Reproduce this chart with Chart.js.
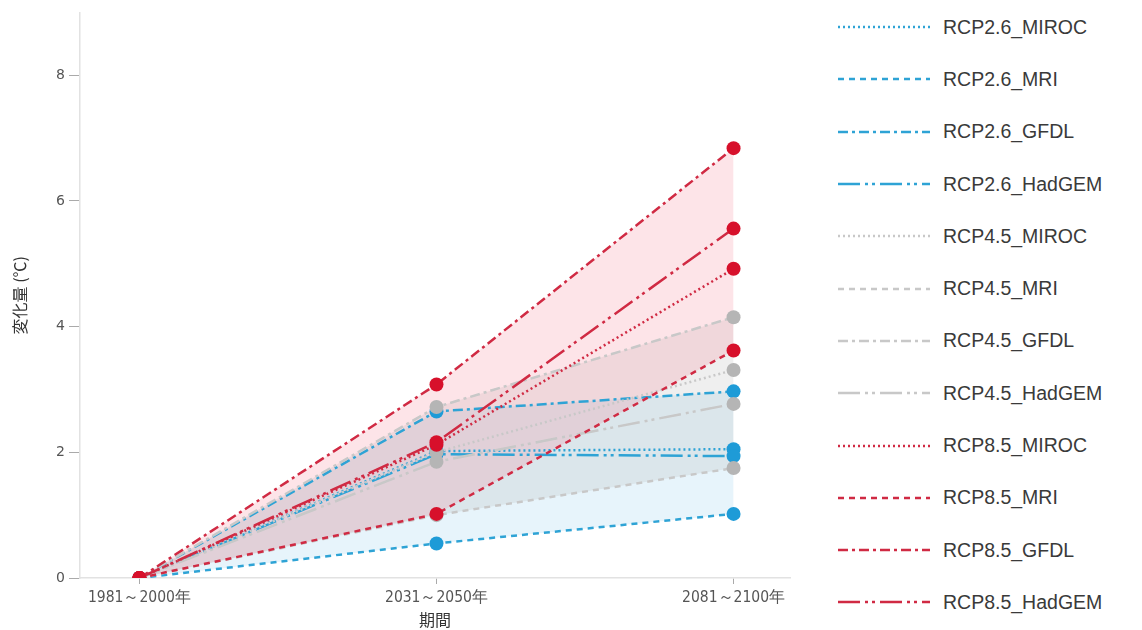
<!DOCTYPE html>
<html lang="ja">
<head>
<meta charset="utf-8">
<title>変化量</title>
<script src="https://cdn.jsdelivr.net/npm/chart.js@4.4.1/dist/chart.umd.min.js"></script>
<style>
  body { margin: 0; background: #fff; width: 1142px; height: 630px; overflow: hidden; position: relative;
         font-family: "Liberation Sans", Arial, sans-serif; }
  #chart { position: absolute; left: 0; top: 0; }
  #legend { position: absolute; left: 838px; top: 1px; }
  .item { height: 52.3px; display: flex; align-items: center; }
  .item svg { width: 92px; height: 12px; margin-right: 13px; }
  .item span { font-size: 19.5px; color: #3a3a3a; }
</style>
</head>
<body>
<canvas id="chart" width="820" height="630"></canvas>
<div id="legend"></div>
<script>
const periods = ['1981～2000年', '2031～2050年', '2081～2100年'];

// 気温の変化量 (℃)
const rcp26Miroc  = [0, 2.02, 2.05];
const rcp26Mri    = [0, 0.55, 1.02];
const rcp26Gfdl   = [0, 2.65, 2.97];
const rcp26Hadgem = [0, 1.97, 1.94];

const rcp45Miroc  = [0, 2.00, 3.31];
const rcp45Mri    = [0, 1.00, 1.75];
const rcp45Gfdl   = [0, 2.72, 4.15];
const rcp45Hadgem = [0, 1.85, 2.77];

const rcp85Miroc  = [0, 2.12, 4.92];
const rcp85Mri    = [0, 1.02, 3.62];
const rcp85Gfdl   = [0, 3.08, 6.84];
const rcp85Hadgem = [0, 2.16, 5.56];

const scenarios = {
    'RCP2.6': { line: '#2ea3d5', point: '#1e9bd7', fill: 'rgba(120, 196, 232, 0.18)' },
    'RCP4.5': { line: '#c8c8c8', point: '#b5b5b5', fill: 'rgba(160, 160, 160, 0.17)' },
    'RCP8.5': { line: '#d02a43', point: '#d7102b', fill: 'rgba(245, 120, 140, 0.2)' }
};

const dashes = {
    MIROC:  [2, 3],
    MRI:    [6, 5],
    GFDL:   [10, 4, 3, 4],
    HadGEM: [22, 5, 3, 4, 3, 5]
};

const series = [
    ['RCP2.6', 'MIROC', rcp26Miroc], ['RCP2.6', 'MRI', rcp26Mri], ['RCP2.6', 'GFDL', rcp26Gfdl], ['RCP2.6', 'HadGEM', rcp26Hadgem],
    ['RCP4.5', 'MIROC', rcp45Miroc], ['RCP4.5', 'MRI', rcp45Mri], ['RCP4.5', 'GFDL', rcp45Gfdl], ['RCP4.5', 'HadGEM', rcp45Hadgem],
    ['RCP8.5', 'MIROC', rcp85Miroc], ['RCP8.5', 'MRI', rcp85Mri], ['RCP8.5', 'GFDL', rcp85Gfdl], ['RCP8.5', 'HadGEM', rcp85Hadgem]
];

// RCP8.5 を最前面に描くため逆順で並べる（index 0 が一番上）
const ordered = series.slice().reverse();

const datasets = ordered.map(([rcp, model, values]) => {
    const s = scenarios[rcp];
    const ds = {
        label: rcp + '_' + model,
        data: values.map((v, i) => ({ x: i, y: v })),
        borderColor: s.line,
        borderWidth: 2.5,
        borderDash: dashes[model],
        pointRadius: 7,
        pointBorderWidth: 0,
        pointBackgroundColor: s.point,
        fill: false,
        tension: 0
    };
    // MRI (下限) から GFDL (上限) までを塗りつぶす
    if (model === 'MRI') {
        ds.fill = { target: ordered.findIndex(r => r[0] === rcp && r[1] === 'GFDL') };
        ds.backgroundColor = s.fill;
    }
    return ds;
});

new Chart(document.getElementById('chart'), {
    type: 'line',
    data: { datasets },
    options: {
        responsive: false,
        animation: false,
        devicePixelRatio: 1,
        layout: { padding: { top: 6, right: 30, left: 0, bottom: 0 } },
        plugins: {
            legend: { display: false },
            tooltip: { enabled: false },
            filler: { drawTime: 'beforeDatasetsDraw' }
        },
        scales: {
            x: {
                type: 'linear',
                min: -0.2,
                max: 2.19,
                afterBuildTicks: scale => { scale.ticks = periods.map((p, i) => ({ value: i })); },
                afterFit: scale => { scale.height = 52; },
                ticks: {
                    callback: v => periods[v],
                    padding: 5,
                    maxRotation: 0,
                    color: '#555',
                    font: { family: 'DejaVu Sans Condensed, DejaVu Sans', size: 15.5 }
                },
                grid: { drawOnChartArea: false, drawTicks: true, tickLength: 6, color: '#aaa' },
                border: { color: '#e2e2e2', width: 1.5 },
                title: {
                    display: true,
                    text: '期間',
                    color: '#333',
                    padding: { top: 0, bottom: 0 },
                    font: { family: 'Noto Sans CJK JP', size: 16 }
                }
            },
            y: {
                min: 0,
                max: 9,
                afterFit: scale => { scale.width = 80; },
                ticks: {
                    stepSize: 2,
                    includeBounds: false,
                    padding: 4,
                    color: '#555',
                    font: { family: 'DejaVu Sans', size: 14 }
                },
                grid: { drawOnChartArea: false, drawTicks: true, tickLength: 11, color: '#aaa' },
                border: { color: '#e2e2e2', width: 1.5 },
                title: {
                    display: true,
                    text: '変化量 (℃)',
                    color: '#333',
                    padding: 10,
                    font: { family: 'Noto Sans CJK JP', size: 16 }
                }
            }
        }
    }
});

// 凡例（線種つき）
const legend = document.getElementById('legend');
series.forEach(([rcp, model]) => {
    const item = document.createElement('div');
    item.className = 'item';
    item.innerHTML =
        '<svg viewBox="0 0 92 12"><line x1="0" y1="6" x2="92" y2="6" stroke="' + scenarios[rcp].line +
        '" stroke-width="2.5" stroke-dasharray="' + dashes[model].join(' ') + '"/></svg>' +
        '<span>' + rcp + '_' + model + '</span>';
    legend.appendChild(item);
});
</script>
</body>
</html>
